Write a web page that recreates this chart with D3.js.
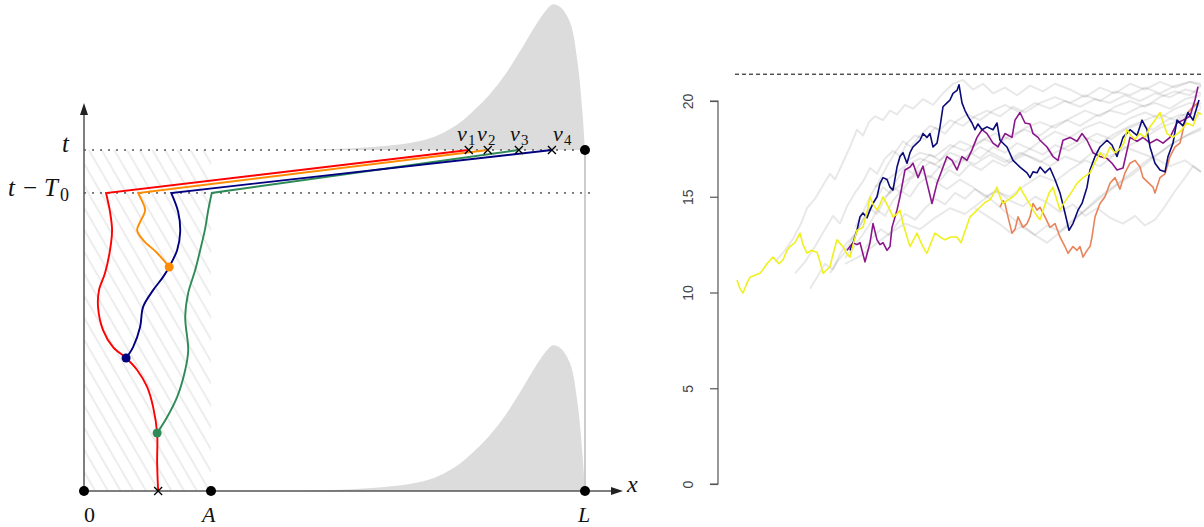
<!DOCTYPE html>
<html><head><meta charset="utf-8">
<script src="https://cdn.jsdelivr.net/npm/d3@7"></script>
<style>body{margin:0;background:#fff}svg{display:block}</style>
</head><body>
<svg id="c" width="1204" height="527"></svg>
<script>
// ---------- LEFT PANEL DATA (x in [0,L], time in [0,t]) ----------
const L = 10, A = 2.535, T = 10, TmT0 = 8.74, x0 = 1.48;
const vEnds = {red: 7.68, orange: 8.06, green: 8.68, navy: 9.34};
const redPath = [[1.48,0],[1.46,0.82],[1.46,1.70],[1.38,2.46],[1.26,3.05],[1.06,3.55],[0.84,3.90],[0.58,4.22],[0.38,4.72],[0.28,5.40],[0.30,5.89],[0.42,6.39],[0.52,7.07],[0.56,7.65],[0.52,8.18],[0.44,8.74]];
const navyPath = [[0.84,3.90],[0.98,4.22],[1.12,4.81],[1.18,5.40],[1.38,5.89],[1.58,6.28],[1.70,6.57],[1.86,7.07],[1.92,7.60],[1.88,8.18],[1.74,8.74]];
const orangePath = [[1.70,6.57],[1.46,6.98],[1.18,7.36],[1.06,7.65],[1.12,7.89],[1.22,8.24],[1.12,8.62],[1.08,8.74]];
const greenPath = [[1.46,1.70],[1.66,2.17],[1.86,2.76],[2.02,3.55],[2.08,4.13],[2.02,5.10],[2.08,5.81],[2.22,6.48],[2.32,7.07],[2.42,7.71],[2.48,8.24],[2.55,8.74]];
const branchDots = [{x:1.46,y:1.70,c:"#2e8b57"},{x:0.84,y:3.90,c:"#000080"},{x:1.70,y:6.57,c:"#ff8c00"}];
// density profile (x, relative height)
const densX = [4.4,5.0,5.5,6.0,6.5,7.0,7.5,7.8,8.1,8.4,8.7,9.0,9.2,9.35,9.5,9.7,9.85,9.95,10];
const densY = [0,0.006,0.015,0.028,0.048,0.09,0.185,0.275,0.38,0.51,0.67,0.84,0.94,0.99,0.975,0.87,0.6,0.25,0];

// ---------- RIGHT PANEL DATA (time step, value) ----------
const yTicks = [0,5,10,15,20];
const barrier = 21.4;
const yellow = [[2,10.65],[5,10.2],[8,9.97],[12,10.5],[15,10.8],[20,10.9],[25,11.0],[28,11.2],[32,11.5],[38,11.85],[44,11.5],[48,11.7],[52,12.2],[55,12.4],[60,12.6],[65,13.1],[68,12.5],[72,12.05],[76,12.2],[82,12.1],[85,11.6],[88,11.0],[92,11.2],[95,11.35],[98,12.0],[102,12.75],[106,12.5],[108,12.4],[112,12.0],[115,11.85],[118,12.5],[122,13.25],[128,13.4],[132,14.2],[135,15.0],[138,14.6],[142,14.3],[145,14.6],[148,15.0],[152,14.6],[155,14.3],[158,13.95],[162,14.1],[165,14.3],[168,13.6],[172,12.9],[175,12.4],[178,12.7],[182,13.1],[186,12.6],[190,12.2],[192,12.05],[196,12.6],[200,13.1],[205,12.9],[210,12.75],[216,12.9],[222,12.9],[226,12.6],[228,12.9],[232,13.5],[235,13.95],[240,14.2],[245,14.45],[250,14.7],[255,14.85],[258,15.1],[262,15.5],[265,15.0],[268,14.65],[272,14.8],[278,15.0],[282,15.2],[285,15.5],[288,15.2],[292,14.85],[295,14.6],[298,14.3],[302,14.0],[305,13.8],[310,14.6],[314,15.2],[318,15.5],[322,14.8],[325,14.3],[328,14.6],[332,14.9],[336,15.2],[342,15.7],[348,16.0],[355,16.25],[360,16.8],[365,17.3],[370,17.0],[375,17.6],[380,17.3],[385,17.5],[389,17.8],[392,18.5],[396,18.2],[400,18.0],[405,18.3],[410,18.1],[415,18.65],[420,19.0],[425,19.4],[428,18.9],[432,18.3],[438,18.1],[445,18.4],[452,18.85],[458,18.7],[463,19.4],[466,19.3]];
const navy = [[115,12.2],[118,12.6],[122,13.25],[125,13.95],[128,14.15],[132,13.9],[135,14.3],[138,14.65],[142,15.0],[145,15.7],[148,16.0],[152,15.9],[155,15.5],[158,15.35],[162,16.55],[165,17.1],[168,17.3],[172,16.75],[175,17.3],[178,17.6],[182,17.8],[185,17.95],[188,18.3],[192,18.1],[195,18.3],[198,17.6],[202,17.8],[205,18.65],[208,19.7],[212,19.9],[215,20.05],[218,20.4],[222,20.55],[224,20.85],[227,19.9],[230,19.5],[233,19.2],[237,18.85],[240,18.5],[243,18.8],[247,18.5],[252,18.65],[258,18.5],[262,18.85],[265,17.95],[272,17.6],[278,16.9],[285,16.55],[292,16.25],[295,16.0],[298,16.3],[302,16.25],[305,16.55],[310,16.25],[315,16.5],[320,15.9],[325,15.2],[330,14.15],[334,13.25],[338,13.6],[343,14.3],[347,14.65],[352,15.5],[355,16.4],[360,17.1],[365,17.6],[372,17.95],[377,17.7],[382,17.1],[388,18.1],[395,18.5],[402,18.2],[407,19.0],[412,18.5],[415,17.6],[420,16.75],[425,16.4],[430,16.3],[433,17.1],[438,17.8],[442,19.0],[448,18.7],[453,19.4],[458,19.0],[462,19.7],[464,20.05]];
const purple = [[112,12.2],[115,12.4],[118,12.6],[122,12.5],[125,12.6],[130,11.6],[135,12.6],[138,13.6],[142,12.75],[145,12.5],[148,12.6],[152,12.2],[155,12.4],[157,13.4],[162,14.3],[165,15.0],[170,16.4],[175,16.55],[178,16.75],[183,16.0],[188,16.6],[193,15.5],[197,14.65],[202,15.7],[207,16.4],[212,17.1],[217,16.9],[222,16.4],[227,17.1],[232,16.9],[237,17.45],[242,18.1],[247,18.5],[252,18.3],[258,17.8],[263,17.6],[270,18.3],[277,18.1],[280,19.0],[285,19.4],[290,18.85],[295,18.8],[298,18.3],[303,18.1],[305,17.95],[312,17.6],[318,17.1],[323,16.9],[328,17.95],[335,18.1],[342,17.9],[347,18.3],[352,17.95],[358,17.3],[365,17.1],[372,17.0],[377,16.75],[382,16.4],[388,16.5],[395,18.1],[402,17.9],[408,18.1],[415,17.8],[422,18.0],[428,17.8],[435,18.1],[442,18.85],[448,19.0],[455,19.2],[460,20.05],[463,20.75]];
const coral = [[265,14.45],[268,14.8],[270,14.65],[273,13.95],[277,13.1],[280,13.3],[283,13.95],[288,13.4],[292,13.6],[295,13.95],[298,14.65],[302,14.3],[305,14.45],[310,13.95],[315,13.4],[320,13.6],[325,12.9],[330,12.4],[333,12.05],[338,12.4],[342,12.2],[345,12.4],[348,11.85],[352,12.2],[355,12.4],[357,12.9],[360,13.95],[365,14.65],[370,15.0],[375,15.7],[380,16.0],[385,15.4],[390,16.25],[395,16.75],[400,16.9],[405,16.55],[408,16.0],[412,15.8],[418,15.5],[420,15.2],[425,16.0],[430,16.2],[435,17.1],[440,17.6],[445,17.8],[448,18.5],[453,19.4],[458,19.7],[463,19.9]];
const greys = [
 [[40,11.6],[50,12.2],[58,12.8],[66,13.6],[72,14.4],[80,14.9],[88,15.6],[95,16.2],[100,15.9],[108,16.8],[115,17.6],[122,18.5],[128,18.2],[134,18.9],[140,19.2],[148,19.0],[155,19.5],[162,19.3],[170,19.8],[178,19.6],[188,20.1],[198,19.8],[208,20.4],[218,20.9],[228,21.1],[238,20.6],[248,20.9],[258,20.4],[270,20.7],[282,20.3],[295,20.8],[308,20.5],[320,20.9],[335,20.6],[350,20.2],[365,20.7],[380,20.4],[395,20.9],[410,20.6],[425,21.0],[440,20.7],[455,21.0],[466,20.8]],
 [[60,11.0],[70,11.6],[80,12.4],[90,13.3],[98,14.0],[105,13.6],[112,14.5],[120,15.2],[128,15.8],[135,16.5],[142,16.2],[150,17.0],[158,17.4],[165,17.1],[172,17.8],[180,18.2],[190,18.0],[200,18.6],[210,18.3],[220,18.9],[232,19.3],[245,19.0],[258,19.5],[270,19.8],[285,19.4],[300,19.9],[315,19.6],[330,20.0],[345,19.7],[360,20.1],[375,19.9],[390,20.3],[405,20.0],[420,20.4],[435,20.2],[450,20.6],[466,20.4]],
 [[75,10.2],[82,10.8],[90,11.5],[98,11.2],[105,12.0],[112,12.6],[120,13.0],[128,13.8],[135,14.4],[142,14.1],[150,14.9],[158,15.5],[166,15.2],[175,15.9],[185,16.3],[195,16.0],[205,16.6],[215,17.0],[225,16.7],[235,17.3],[245,17.0],[258,17.6],[270,17.3],[282,17.8],[295,17.5],[308,18.0],[320,18.4],[335,18.1],[350,18.6],[365,18.9],[380,18.6],[395,19.1],[410,19.4],[425,19.1],[440,19.6],[455,19.9],[466,19.7]],
 [[95,11.0],[102,11.6],[110,12.1],[118,12.9],[125,13.5],[132,14.2],[140,14.8],[148,15.5],[155,15.2],[162,15.9],[170,16.5],[178,16.2],[186,16.8],[195,17.2],[205,16.9],[215,17.5],[225,17.9],[238,17.6],[250,18.0],[262,17.7],[275,18.2],[290,18.5],[305,18.2],[318,18.7],[332,19.0],[345,18.7],[360,19.2],[375,19.5],[390,19.3],[405,19.7],[420,19.9],[435,19.6],[450,20.1],[466,20.3]],
 [[110,11.8],[118,12.3],[126,12.9],[134,13.5],[142,14.3],[150,14.0],[158,14.8],[166,15.3],[175,15.0],[184,15.7],[194,16.1],[204,15.8],[214,16.4],[224,16.1],[235,16.7],[246,16.4],[258,16.9],[270,16.6],[282,17.1],[295,17.5],[308,17.2],[320,17.7],[334,17.4],[348,17.9],[362,18.3],[376,18.0],[390,18.5],[404,18.8],[418,18.5],[432,19.0],[446,19.3],[460,19.1],[466,19.4]],
 [[130,12.3],[138,12.9],[146,13.3],[154,13.0],[162,13.6],[170,14.1],[180,13.8],[190,14.4],[200,14.9],[210,14.6],[220,15.2],[230,14.9],[240,15.4],[250,15.1],[262,14.6],[275,14.0],[288,13.4],[300,13.0],[312,13.5],[325,13.2],[338,13.8],[350,14.3],[362,14.9],[375,15.4],[388,15.9],[400,16.4],[412,16.9],[425,17.3],[438,17.8],[452,18.2],[466,18.5]],
 [[200,15.8],[212,15.4],[225,15.9],[238,15.5],[250,15.0],[262,15.3],[275,14.8],[288,14.5],[300,15.0],[312,14.7],[325,14.2],[338,14.6],[350,14.0],[362,14.4],[375,13.9],[388,13.6],[400,14.0],[410,13.5],[420,13.8],[430,14.5],[440,15.3],[450,16.0],[458,16.6],[466,16.3]],
 [[150,15.0],[165,15.6],[180,16.2],[195,16.8],[210,16.4],[225,17.0],[240,16.7],[255,17.2],[270,16.8],[285,17.3],[300,17.0],[315,16.6],[330,17.1],[345,16.8],[360,17.4],[375,17.1],[390,17.6],[405,17.3],[420,17.0],[435,16.6],[450,16.9],[466,16.3]],
 [[110,11.5],[125,11.9],[140,12.5],[155,13.1],[170,13.6],[185,13.3],[200,13.9],[215,14.4],[230,14.1],[245,14.7],[260,15.3],[275,15.0],[290,15.6],[305,16.1],[320,15.8],[335,16.4],[350,16.9],[365,16.6],[380,17.2],[395,17.7],[410,18.1],[425,18.6],[440,18.9],[455,19.3],[466,19.6]],
 [[170,16.8],[185,17.3],[200,17.1],[215,17.7],[230,17.4],[245,17.9],[260,18.3],[275,18.0],[290,18.6],[305,18.9],[320,18.6],[335,19.1],[350,19.5],[365,19.2],[380,19.7],[395,20.0],[410,19.7],[425,20.2],[440,20.5],[455,20.3],[466,20.8]],
 [[140,15.5],[155,16.0],[170,16.6],[185,17.0],[200,16.7],[215,17.3],[230,17.0],[245,17.6],[260,17.2],[275,16.8],[290,17.2],[305,16.8],[320,17.3],[335,17.7],[350,18.1],[365,17.8],[380,18.3],[395,18.7],[410,19.0],[425,19.3],[440,19.0],[455,19.5],[466,19.9]],
 [[120,13.4],[128,14.2],[136,15.1],[144,15.8],[152,16.6],[160,17.3],[168,17.9],[176,17.6],[185,18.2],[195,18.7],[205,18.5],[215,19.0],[228,18.7],[240,19.2],[252,19.5],[265,19.2],[278,19.7],[290,19.4],[305,19.9],[320,20.2],[335,19.9],[350,20.3],[365,20.0],[380,20.5],[395,20.3],[410,20.7],[425,20.4],[440,20.8],[455,21.0],[466,20.9]],
 [[240,14.4],[252,14.0],[264,13.6],[276,13.1],[288,13.5],[300,13.0],[312,12.6],[324,13.1],[336,13.6],[348,14.2],[360,14.7],[372,15.2],[384,15.7],[396,16.1],[408,16.6],[420,17.1],[432,17.6],[445,18.0],[458,18.4],[466,18.6]]
];

const svg = d3.select("#c");
const serif = "'Liberation Serif','Times New Roman',serif";

// ================= LEFT PANEL =================
const xL = d3.scaleLinear().domain([0, L]).range([84, 585]);
const yL = d3.scaleLinear().domain([0, T]).range([491, 150]);
const dens = d3.scaleLinear().domain([0, 1]).range([0, 147]);
const defs = svg.append("defs");
defs.append("clipPath").attr("id","clipL").append("rect").attr("x",0).attr("y",0).attr("width",640).attr("height",527);
const left = svg.append("g").attr("clip-path","url(#clipL)");
const pat = defs.append("pattern").attr("id","hatch").attr("patternUnits","userSpaceOnUse")
  .attr("width",11).attr("height",11).attr("patternTransform","rotate(-30)");
pat.append("line").attr("x1",2).attr("y1",0).attr("x2",2).attr("y2",11).attr("stroke","#e9e9e9").attr("stroke-width",1.6);

// densities
const densArea = base => d3.area().curve(d3.curveCatmullRom.alpha(0.5))
  .x((d,i)=>xL(densX[i])).y0(yL(base)).y1((d,i)=>yL(base)-dens(densY[i]));
left.append("path").attr("d", densArea(T)(densX)).attr("fill","#dcdcdc");
left.append("path").attr("d", densArea(0)(densX)).attr("fill","#dcdcdc");

// hatched region
left.append("rect").attr("x",xL(0)).attr("y",yL(T)).attr("width",xL(A)-xL(0)).attr("height",yL(0)-yL(T)).attr("fill","url(#hatch)");

// dotted lines
left.append("line").attr("x1",xL(0)).attr("x2",xL(L)).attr("y1",yL(T)).attr("y2",yL(T))
  .attr("stroke","#000").attr("stroke-width",1).attr("stroke-dasharray","2,6");
left.append("line").attr("x1",xL(0)).attr("x2",xL(L)+5).attr("y1",yL(TmT0)).attr("y2",yL(TmT0))
  .attr("stroke","#000").attr("stroke-width",1).attr("stroke-dasharray","2,6");
// vertical at L
left.append("line").attr("x1",xL(L)).attr("x2",xL(L)).attr("y1",yL(T)).attr("y2",yL(0)).attr("stroke","#bdbdbd").attr("stroke-width",1.5);

// axes
left.append("line").attr("x1",xL(0)).attr("x2",616).attr("y1",yL(0)).attr("y2",yL(0)).attr("stroke","#555").attr("stroke-width",1.5);
left.append("path").attr("d",`M623,${yL(0)} L611,${yL(0)-4} L611,${yL(0)+4} Z`).attr("fill","#222");
left.append("line").attr("x1",xL(0)).attr("x2",xL(0)).attr("y1",yL(0)).attr("y2",110).attr("stroke","#555").attr("stroke-width",1.5);
left.append("path").attr("d",`M${xL(0)},103 L${xL(0)-4},115 L${xL(0)+4},115 Z`).attr("fill","#222");

// branching paths
const lineL = d3.line().curve(d3.curveCatmullRom.alpha(0.5)).x(d=>xL(d[0])).y(d=>yL(d[1]));
const paths = [
  {p: greenPath, c:"#2e8b57", v: vEnds.green},
  {p: navyPath, c:"#000080", v: vEnds.navy},
  {p: orangePath, c:"#ff8c00", v: vEnds.orange},
  {p: redPath, c:"#ff0000", v: vEnds.red}
];
paths.forEach(o=>{
  left.append("path").attr("d", lineL(o.p) + `L${xL(o.v)},${yL(T)}`)
    .attr("fill","none").attr("stroke",o.c).attr("stroke-width",1.9).attr("stroke-linejoin","miter");
});
branchDots.forEach(d=>{
  left.append("circle").attr("cx",xL(d.x)).attr("cy",yL(d.y)).attr("r",4.5).attr("fill",d.c);
});

// crosses
const cross = (x,y)=>left.append("path").attr("d",`M${x-4},${y-4}L${x+4},${y+4}M${x-4},${y+4}L${x+4},${y-4}`).attr("stroke","#000").attr("stroke-width",1.3);
[vEnds.red,vEnds.orange,vEnds.green,vEnds.navy].forEach(v=>cross(xL(v),yL(T)));
cross(xL(x0), yL(0));

// big dots
[[0,0],[A,0],[L,0],[L,T]].forEach(d=>left.append("circle").attr("cx",xL(d[0])).attr("cy",yL(d[1])).attr("r",5).attr("fill","#000"));

// labels
const txt = (x,y,s,size,italic)=>left.append("text").attr("x",x).attr("y",y).attr("font-family",serif)
  .attr("font-size",size).attr("font-style",italic?"italic":"normal").attr("fill","#111").text(s);
txt(62,152,"t",25,1);
txt(8,196,"t",25,1);
txt(23,196,"−",25,0);
txt(44,196,"T",25,1);
txt(60,201,"0",18,0);
txt(84,522,"0",22,0);
txt(202,522,"A",22,1);
txt(578,522,"L",22,1);
txt(627,492,"x",24,1);
const vl = [["1",457],["2",477],["3",510],["4",553]];
vl.forEach(([n,x])=>{ txt(x,141,"v",22,1); txt(x+11,145,n,15,0); });

// ================= RIGHT PANEL =================
const xR = d3.scaleLinear().domain([0, 470]).range([735, 1205]);
const yR = d3.scaleLinear().domain([0, 20]).range([484, 101]);
const right = svg.append("g");
const lineR = d3.line().x(d=>xR(d[0])).y(d=>yR(d[1]));
greys.forEach(g=>{
  right.append("path").attr("d",lineR(g)).attr("fill","none").attr("stroke","rgba(0,0,0,0.09)").attr("stroke-width",2).attr("stroke-linejoin","round");
});
[[coral,"#e8835a"],[purple,"#8b168b"],[navy,"#0a0a78"],[yellow,"#f0f020"]].forEach(([d,c])=>{
  right.append("path").attr("d",lineR(d)).attr("fill","none").attr("stroke",c).attr("stroke-width",1.6).attr("stroke-linejoin","round");
});
right.append("line").attr("x1",xR(0)).attr("x2",1204).attr("y1",yR(barrier)).attr("y2",yR(barrier))
  .attr("stroke","#000").attr("stroke-width",1).attr("stroke-dasharray","4,3");
const axR = right.append("g").attr("transform","translate(718,0)")
  .call(d3.axisLeft(yR).tickValues(yTicks).tickSize(8).tickPadding(0).tickFormat(d3.format("d")));
axR.select(".domain").attr("stroke","#555").attr("stroke-width",1.2).attr("d",`M-8,${yR(0)}H0V${yR(20)}H-8`);
axR.selectAll(".tick line").attr("stroke","#555").attr("stroke-width",1.2);
axR.selectAll(".tick text").attr("font-family","'Liberation Sans',Arial,sans-serif").attr("font-size",14).attr("fill","#444")
  .attr("text-anchor","middle").attr("transform","translate(-30,0) rotate(-90)").attr("x",0).attr("dy","0.35em");
</script>
</body></html>
